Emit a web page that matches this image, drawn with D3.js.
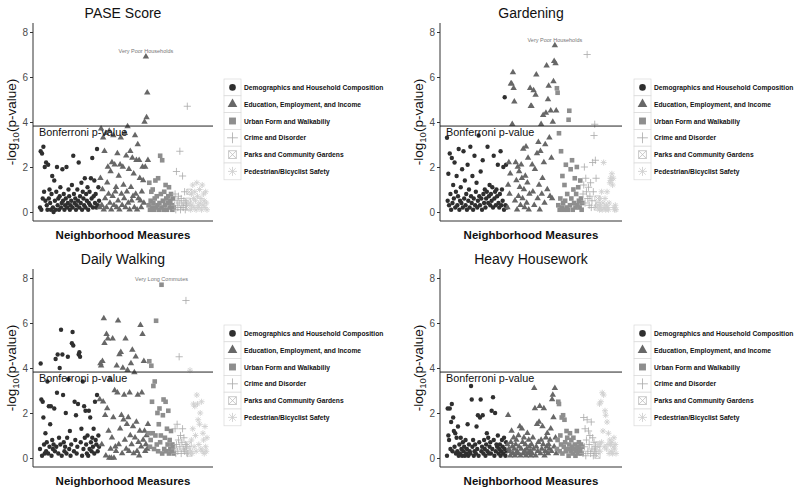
<!DOCTYPE html>
<html><head><meta charset="utf-8">
<script src="https://cdn.jsdelivr.net/npm/d3@7"></script>
<style>body{margin:0;background:#fff}svg{display:block}text{font-family:"Liberation Sans",Arial,sans-serif}</style>
</head><body><svg id="c" width="800" height="493"></svg>
<script>
const categories = ["Demographics and Household Composition","Education, Employment, and Income","Urban Form and Walkabiliy","Crime and Disorder","Parks and Community Gardens","Pedestrian/Bicyclist Safety"];
const catColors = ["#2f2f2f","#676767","#8e8e8e","#a9a9a9","#bdbdbd","#d0d0d0"];
const yTicks = [0,2,4,6,8];
const bonferroni = 3.82;

// PASE Score
const paseDemo = [0.2,2.7,0.1,2.6,0.6,2.9,0.9,2.0,0.5,2.2,0.3,0.1,2.1,0.6,1.0,0.4,0.1,0.8,1.6,0.2,0.0,1.4,0.5,0.1,0.9,2.0,0.3,0.6,0.1,0.7,1.1,0.2,0.4,1.9,0.5,0.8,0.1,0.3,0.6,2.0,0.2,0.4,1.0,0.7,0.1,0.3,0.5,1.2,0.2,2.5,0.8,0.4,0.6,0.1,0.3,1.0,0.5,2.2,0.2,0.7,0.4,1.3,0.1,0.9,0.6,0.3,1.5,0.2,0.8,0.5,1.1,0.1,0.4,0.9,0.3,1.5,0.6,2.4,0.2,0.7,1.4,0.4,0.8,0.2,2.8,0.3,1.1,0.5];
const paseEdu = [0.2,1.5,3.7,0.3,1.0,3.3,0.1,2.7,0.6,3.5,0.2,1.3,2.0,0.8,3.6,0.4,1.8,0.1,2.2,0.7,3.4,0.3,2.1,0.9,1.1,0.2,2.6,0.5,1.6,0.1,2.1,3.3,0.8,0.3,2.0,1.2,0.6,3.5,0.2,2.5,0.9,3.8,0.4,1.9,0.1,2.7,1.1,0.5,2.4,0.7,1.7,0.2,3.4,0.8,2.3,0.1,3.0,0.6,2.3,1.5,0.5,0.2,0.9,2.0,1.4,0.4,4.0,2.0,6.9,4.2,5.3,2.3];
const paseUrban = [0.3,1.3,0.1,0.5,0.9,0.2,1.0,0.4,0.1,0.6,1.4,0.2,0.7,0.3,1.5,0.1,0.4,2.5,0.8,0.2,2.3,0.5,0.1,0.9,0.3,1.2,0.6,0.1,0.4,0.7,1.1,0.2,0.5,0.8,0.3,0.1,0.6,0.2];
const paseCrime = [0.3,0.8,0.1,1.8,0.5,0.2,0.7,0.4,2.7,0.1,0.6,0.3,1.6,0.2,0.5,0.9,0.1,0.4,0.3,4.7];
const paseParks = [0.5,0.2,0.9];
const pasePed = [0.4,0.1,0.8,0.3,1.2,0.6,0.2,0.9,0.5,0.1,1.3,0.7,0.3,0.2,1.0,0.4,0.6,0.1,1.2,0.3,0.8,0.5,0.2,0.9,0.4,0.1];

// Gardening
const gardDemo = [3.3,0.5,1.7,0.3,2.6,0.8,0.1,2.4,0.4,1.2,0.6,2.2,0.2,0.9,1.6,0.3,0.7,2.8,0.1,0.5,1.1,0.4,1.9,0.2,2.7,0.6,1.4,0.3,0.8,0.1,2.1,0.5,1.0,0.2,2.9,0.7,0.4,1.6,0.1,0.6,2.5,0.3,0.9,1.3,0.2,0.5,3.4,0.7,0.3,1.8,0.6,0.1,2.3,0.8,0.4,1.0,0.2,0.6,0.9,2.9,0.4,0.7,1.2,0.3,0.8,0.5,1.1,0.2,2.5,0.6,0.9,0.3,1.0,0.7,2.1,0.4,0.2,0.8,2.7,0.3,1.0,0.5,2.0,0.1,5.1,0.3,2.1,0.2];
const gardEdu = [0.2,1.2,2.2,0.8,1.7,5.7,5.7,3.9,6.2,5.5,4.9,0.5,2.2,1.4,0.1,2.0,0.7,1.8,1.1,0.3,2.1,1.5,0.6,2.8,1.0,0.2,1.6,2.9,0.4,1.3,2.4,0.1,0.8,5.5,4.7,4.7,2.1,0.9,5.4,0.3,1.9,5.2,6.1,2.6,0.6,3.1,1.2,0.1,2.7,3.9,0.8,1.5,4.3,2.2,0.4,3.0,4.4,6.5,1.0,5.0,5.6,3.3,0.7,4.5,2.4,0.6,4.0,5.8,6.7,7.4,6.6,4.5];
const gardUrban = [5.5,5.3,0.3,3.5,0.1,0.6,2.7,0.2,1.6,0.4,0.1,1.2,0.5,2.1,0.2,0.8,0.1,4.1,4.5,0.3,1.9,0.6,2.3,0.1,1.0,0.4,1.5,0.2,0.8,2.0,0.3,1.1,0.5,0.2,1.4,0.6,0.1,0.4];
const gardCrime = [0.8,1.2,2.0,0.4,1.5,0.9,7.0,0.6,1.1,0.3,0.7,1.3,0.2,0.5,2.2,0.9,3.4,3.9,2.3,1.5];
const gardParks = [0.2,0.6,0.3];
const gardPed = [0.3,0.1,0.6,0.2,0.9,0.1,0.4,2.2,0.2,0.6,0.1,0.3,0.9,0.2,0.1,0.4,1.3,1.5,1.4,1.7,1.2,1.5,0.2,0.1,0.3,0.1];

// Daily Walking
const walkDemo = [0.4,4.2,2.6,0.1,2.5,1.8,0.6,0.2,1.1,0.3,0.7,3.4,0.2,2.3,0.5,1.5,2.3,0.1,0.8,0.4,0.6,2.2,0.3,4.4,0.5,2.9,4.6,0.2,0.9,4.0,0.6,5.7,0.1,4.6,2.8,0.7,0.3,0.5,2.0,0.2,0.9,4.5,3.5,0.4,1.2,0.1,0.6,5.1,5.6,5.0,0.3,2.5,0.8,1.9,0.2,0.5,2.4,4.6,4.7,4.5,0.7,1.3,0.1,3.4,0.4,2.3,0.9,2.1,0.6,0.2,1.0,0.1,2.1,0.4,1.8,0.7,0.3,0.9,0.5,1.3,0.2,2.5,0.8,0.6,2.8,0.3,1.0,0.5];
const walkEdu = [2.6,4.2,4.1,0.6,4.3,2.5,6.2,5.1,1.9,0.1,5.5,2.2,5.3,1.2,0.0,3.5,0.4,0.0,0.9,5.3,1.8,0.0,3.0,0.5,0.3,4.1,2.9,6.1,0.6,4.6,1.3,4.7,1.9,0.2,4.0,1.7,2.8,0.8,5.3,0.4,1.5,3.9,1.8,0.3,2.9,1.0,4.2,0.6,4.8,1.4,0.2,3.8,0.9,4.5,1.6,0.3,2.8,0.7,0.1,1.2,5.9,0.5,2.9,5.5,0.8,4.3,1.2,0.3,0.6,1.0,0.4,1.5];
const walkUrban = [1.1,4.3,0.5,0.8,4.1,2.5,1.1,3.2,0.4,3.4,1.0,6.1,0.6,2.0,0.3,1.5,2.2,0.7,1.0,7.7,0.2,1.9,2.6,0.4,0.9,2.5,0.3,1.3,0.6,2.1,0.2,0.8,0.4,1.2,0.3,0.6,0.5,0.2];
const walkCrime = [0.4,1.3,0.2,0.6,1.5,0.3,0.8,4.5,0.5,1.0,0.2,0.7,1.3,0.4,0.9,0.3,0.6,7.0,0.5,0.2];
const walkParks = [0.3,0.6,0.2];
const walkPed = [3.9,0.3,0.8,0.2,1.3,2.4,0.5,2.3,1.0,0.3,2.8,2.4,1.7,0.6,1.5,2.0,0.4,2.5,0.3,1.1,0.8,0.2,1.4,0.5,0.3,0.9];

// Heavy Housework
const houseDemo = [0.1,2.2,1.0,0.8,2.2,0.4,1.6,2.4,0.3,1.8,1.2,0.5,1.1,0.2,0.9,0.3,1.4,0.1,0.6,0.2,0.9,0.4,0.1,0.7,0.3,0.5,0.1,0.8,0.2,0.4,1.5,0.1,0.6,0.3,0.2,3.2,2.6,0.5,0.8,0.1,0.3,0.6,0.2,1.4,0.4,1.9,0.1,0.7,1.8,2.6,0.3,0.5,1.9,0.2,0.8,0.4,0.1,0.6,1.1,0.3,0.9,0.2,0.5,0.7,0.2,2.1,0.4,2.7,0.8,0.1,2.0,0.3,0.6,0.5,1.0,0.2,0.4,0.6,0.1,0.3,0.8,0.5,0.2,0.9,0.4,0.1,0.7,0.3];
const houseEdu = [0.6,1.9,0.4,0.3,0.1,0.7,1.2,0.5,0.2,0.9,0.4,0.1,0.6,0.8,0.3,0.2,1.0,0.5,1.4,0.1,0.4,1.3,0.7,0.2,0.9,0.3,0.6,0.1,0.4,1.1,0.2,0.8,0.5,0.3,0.1,0.6,0.2,0.9,0.4,3.1,2.2,0.1,0.5,1.5,0.3,0.7,1.6,2.3,0.2,0.8,0.4,1.4,0.6,2.2,0.1,0.3,0.9,0.5,1.1,0.2,0.6,0.4,0.8,1.3,0.3,2.6,2.8,1.8,0.5,3.1,0.9,0.2];
const houseUrban = [0.4,0.8,2.5,2.4,0.3,1.0,0.6,1.8,0.2,1.9,0.5,1.7,0.7,0.3,1.2,0.9,0.4,0.1,0.6,1.1,0.3,0.8,0.5,0.2,0.9,0.4,0.6,0.1,0.3,1.2,0.5,0.2,0.7,0.4,0.3,0.6,0.2,0.5];
const houseCrime = [0.2,1.8,0.5,1.3,0.1,0.8,1.7,0.3,1.2,0.6,1.0,0.2,1.6,0.4,0.9,0.1,0.7,0.3,0.5,0.2];
const houseParks = [0.4,0.1,0.6];
const housePed = [0.6,2.4,0.3,2.5,0.7,2.9,1.2,2.8,0.5,2.1,1.9,0.4,1.6,0.6,1.1,0.2,0.8,0.6,0.3,0.7,0.2,0.5,0.9,0.4,0.6,0.2];

const panels = [
  {title:"PASE Score", series:[paseDemo,paseEdu,paseUrban,paseCrime,paseParks,pasePed], label:{text:"Very Poor Households",cat:1,idx:68}, col:0,row:0},
  {title:"Gardening", series:[gardDemo,gardEdu,gardUrban,gardCrime,gardParks,gardPed], label:{text:"Very Poor Households",cat:1,idx:69}, col:1,row:0},
  {title:"Daily Walking", series:[walkDemo,walkEdu,walkUrban,walkCrime,walkParks,walkPed], label:{text:"Very Long Commutes",cat:2,idx:19}, col:0,row:1},
  {title:"Heavy Housework", series:[houseDemo,houseEdu,houseUrban,houseCrime,houseParks,housePed], label:null, col:1,row:1}
];

const svg = d3.select("#c");

function drawSymbol(g, cat, x, y, s, color) {
  if (cat === 0) {
    g.append("circle").attr("cx",x).attr("cy",y).attr("r",2.2*s).attr("fill",color);
  } else if (cat === 1) {
    g.append("path").attr("d", d3.symbol(d3.symbolTriangle, 18*s*s)()).attr("transform",`translate(${x},${y})`).attr("fill",color);
  } else if (cat === 2) {
    const h = 2.3*s;
    g.append("rect").attr("x",x-h).attr("y",y-h).attr("width",2*h).attr("height",2*h).attr("fill",color);
  } else if (cat === 3) {
    const h = 3.6*s;
    g.append("path").attr("d",`M${x-h},${y}H${x+h}M${x},${y-h}V${y+h}`).attr("stroke",color).attr("stroke-width",0.8).attr("fill","none");
  } else if (cat === 4) {
    const h = 2.6*s;
    g.append("path").attr("d",`M${x-h},${y-h}H${x+h}V${y+h}H${x-h}ZM${x-h},${y-h}L${x+h},${y+h}M${x+h},${y-h}L${x-h},${y+h}`).attr("stroke",color).attr("stroke-width",0.8).attr("fill","none");
  } else {
    const h = 3*s, d = h*0.72;
    g.append("path").attr("d",`M${x-h},${y}H${x+h}M${x},${y-h}V${y+h}M${x-d},${y-d}L${x+d},${y+d}M${x+d},${y-d}L${x-d},${y+d}`).attr("stroke",color).attr("stroke-width",0.9).attr("fill","none");
  }
}

panels.forEach(p => {
  const ox = p.col ? 440 : 33;
  const oy = p.row ? 246 : 0;
  const W = p.col ? 182 : 180;
  const g = svg.append("g");
  const counts = p.series.map(s => s.length);
  const N = d3.sum(counts);
  const starts = counts.map((c,i) => d3.sum(counts.slice(0,i)));
  const x = d3.scaleLinear().domain([0, N-1]).range([ox+7, ox+W-6]);
  const y = d3.scaleLinear().domain([0, 8]).range([oy+212, oy+32]);

  // title
  g.append("text").attr("x", ox+W/2).attr("y", oy+18).attr("text-anchor","middle")
    .attr("font-size",14).attr("fill","#111").text(p.title);

  // y axis
  const ya = g.append("g").attr("transform",`translate(${ox},0)`).call(d3.axisLeft(y).tickValues(yTicks).tickSize(3).tickPadding(2));
  ya.select(".domain").remove();
  ya.selectAll(".tick line").attr("stroke","#333");
  ya.selectAll(".tick text").attr("font-size",10).attr("fill","#4d4d4d").attr("font-family","Liberation Sans, Arial, sans-serif");
  g.append("line").attr("x1",ox).attr("x2",ox).attr("y1",oy+23).attr("y2",oy+221).attr("stroke","#333").attr("stroke-width",1);
  g.append("line").attr("x1",ox).attr("x2",ox+W).attr("y1",oy+221).attr("y2",oy+221).attr("stroke","#333").attr("stroke-width",1);

  // y label
  const yl = g.append("text").attr("transform",`translate(${ox-17},${oy+122}) rotate(-90)`).attr("text-anchor","middle")
    .attr("font-size",13.5).attr("fill","#111");
  yl.append("tspan").text("-log");
  yl.append("tspan").attr("font-size",9.5).attr("dy",3).text("10");
  yl.append("tspan").attr("dy",-3).text("(p-value)");

  // x label
  g.append("text").attr("x", ox+W/2).attr("y", oy+239).attr("text-anchor","middle")
    .attr("font-size",11.5).attr("font-weight","bold").attr("fill","#111").text("Neighborhood Measures");

  // points
  const pts = g.append("g");
  p.series.forEach((vals, ci) => {
    vals.forEach((v, i) => drawSymbol(pts, ci, x(starts[ci]+i), y(v), 1, catColors[ci]));
  });

  // bonferroni
  g.append("line").attr("x1",ox).attr("x2",ox+W).attr("y1",y(bonferroni)).attr("y2",y(bonferroni)).attr("stroke","#222").attr("stroke-width",1);
  g.append("text").attr("x",ox+6).attr("y",y(bonferroni)+10).attr("font-size",10.8).attr("fill","#111").text("Bonferroni p-value");

  // annotation
  if (p.label) {
    const lx = x(starts[p.label.cat]+p.label.idx);
    const ly = y(p.series[p.label.cat][p.label.idx]);
    g.append("text").attr("x",lx).attr("y",ly-4).attr("text-anchor","middle").attr("font-size",5.5).attr("fill","#777").text(p.label.text);
  }

  // legend
  const lx0 = p.col ? 634 : 224, ly0 = oy + 79, rh = 16.8;
  const lg = g.append("g");
  categories.forEach((c, i) => {
    lg.append("rect").attr("x",lx0).attr("y",ly0+i*rh).attr("width",17).attr("height",rh)
      .attr("fill","#fff").attr("stroke","#d9d9d9").attr("stroke-width",0.7);
    drawSymbol(lg, i, lx0+8.5, ly0+i*rh+rh/2, 1.5, catColors[i]);
    lg.append("text").attr("x",lx0+20).attr("y",ly0+i*rh+rh/2+2.5).attr("font-size",6.7).attr("font-weight","bold").attr("fill","#111").text(c);
  });
});
</script></body></html>
